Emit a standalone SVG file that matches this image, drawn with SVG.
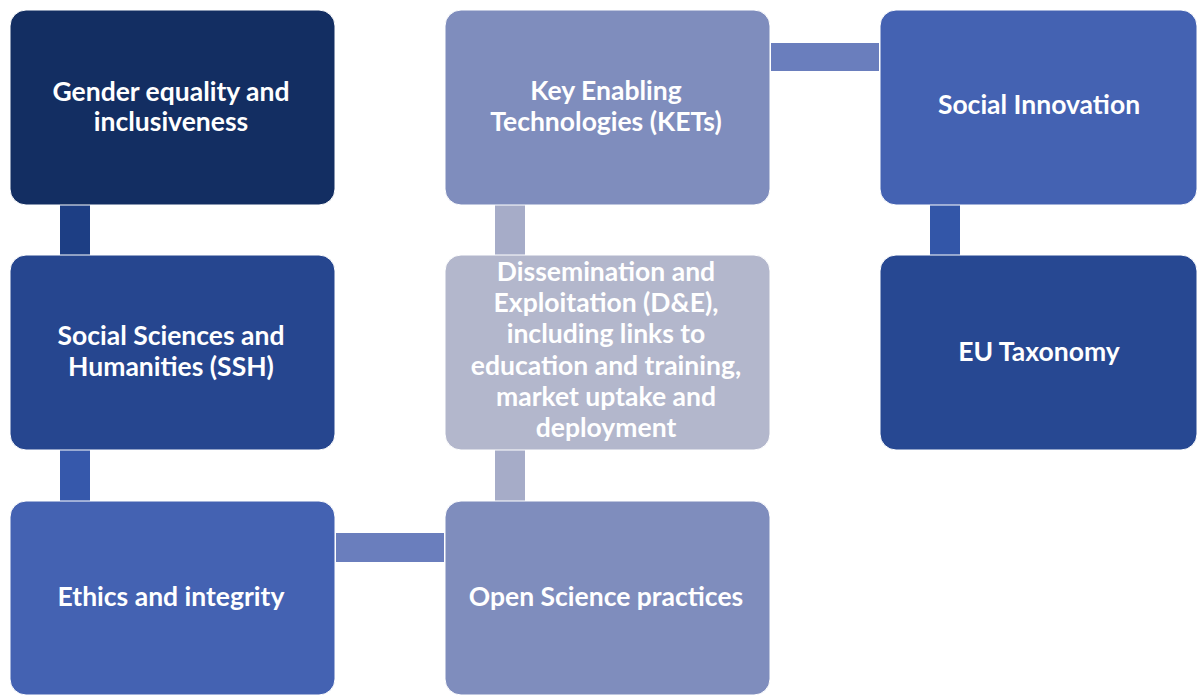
<svg xmlns="http://www.w3.org/2000/svg" width="1197" height="695" viewBox="0 0 1197 695">
<style>
.box{stroke:#ffffff;stroke-width:1}
.t{font-family:Lato,"Open Sans","Liberation Sans",sans-serif;font-weight:bold;font-size:26.5px;fill:#ffffff;text-anchor:middle}
</style>
<rect width="1197" height="695" fill="#ffffff"/>
<g id="connectors">
<rect x="60" y="205" width="30" height="50" fill="#1D3E84"/>
<rect x="60" y="450" width="30" height="51" fill="#3658AB"/>
<rect x="495" y="205" width="30" height="50" fill="#A6ACC8"/>
<rect x="495" y="450" width="30" height="51" fill="#A6ACC8"/>
<rect x="930" y="205" width="30" height="50" fill="#3356A8"/>
<rect x="771" y="43" width="108" height="28" fill="#6A7EBD"/>
<rect x="336" y="533" width="108" height="29" fill="#6A7EBD"/>
</g>
<g id="gender">
<rect class="box" x="10" y="10" width="325" height="195" rx="16" fill="#132E62"/>
<text class="t" x="171" y="101">Gender equality and</text>
<text class="t" x="171" y="131">inclusiveness</text>
</g>
<g id="ssh">
<rect class="box" x="10" y="255" width="325" height="195" rx="16" fill="#26468F"/>
<text class="t" x="171" y="345">Social Sciences and</text>
<text class="t" x="171" y="376">Humanities (SSH)</text>
</g>
<g id="ethics">
<rect class="box" x="10" y="501" width="325" height="194" rx="16" fill="#4462B2"/>
<text class="t" x="171" y="606">Ethics and integrity</text>
</g>
<g id="kets">
<rect class="box" x="445" y="10" width="325" height="195" rx="16" fill="#7F8DBD"/>
<text class="t" x="606" y="100">Key Enabling</text>
<text class="t" x="606" y="131">Technologies (KETs)</text>
</g>
<g id="de">
<rect class="box" x="445" y="255" width="325" height="195" rx="16" fill="#B3B7CC"/>
<text class="t" x="606" y="281">Dissemination and</text>
<text class="t" x="606" y="312">Exploitation (D&amp;E),</text>
<text class="t" x="606" y="343">including links to</text>
<text class="t" x="606" y="375">education and training,</text>
<text class="t" x="606" y="406">market uptake and</text>
<text class="t" x="606" y="437">deployment</text>
</g>
<g id="openscience">
<rect class="box" x="445" y="501" width="325" height="194" rx="16" fill="#7F8DBD"/>
<text class="t" x="606" y="606">Open Science practices</text>
</g>
<g id="socialinnovation">
<rect class="box" x="880" y="10" width="317" height="195" rx="16" fill="#4462B2"/>
<text class="t" x="1039" y="114">Social Innovation</text>
</g>
<g id="eutaxonomy">
<rect class="box" x="880" y="255" width="317" height="195" rx="16" fill="#274892"/>
<text class="t" x="1039" y="361">EU Taxonomy</text>
</g>
</svg>
